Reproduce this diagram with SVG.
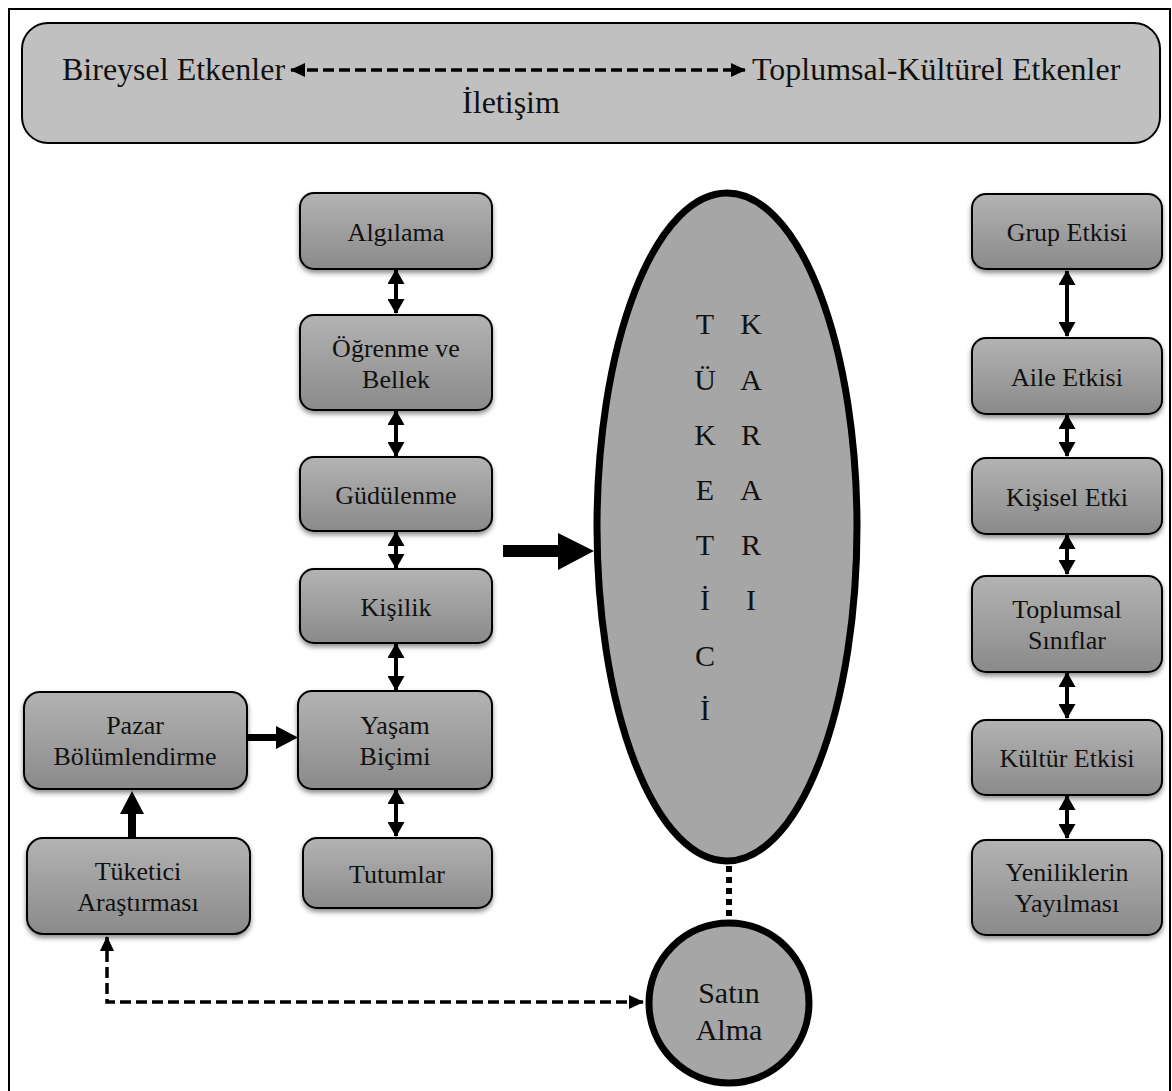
<svg xmlns="http://www.w3.org/2000/svg" width="1172" height="1091" viewBox="0 0 1172 1091">
  <defs>
    <linearGradient id="boxGrad" x1="0" y1="0" x2="0" y2="1">
      <stop offset="0" stop-color="#b3b3b3"/>
      <stop offset="1" stop-color="#8a8a8a"/>
    </linearGradient>
    <filter id="shadow" x="-10%" y="-10%" width="120%" height="130%">
      <feDropShadow dx="0" dy="3" stdDeviation="2.5" flood-color="#000" flood-opacity="0.45"/>
    </filter>
    <!-- solid head for the short two-way links -->
    <marker id="headSolid" markerUnits="userSpaceOnUse" markerWidth="15" markerHeight="17" refX="14" refY="8.5" orient="auto-start-reverse" viewBox="0 0 15 17">
      <path d="M0,0 L15,8.5 L0,17 z" fill="#000"/>
    </marker>
    <!-- head for dashed links -->
    <marker id="headDash" markerUnits="userSpaceOnUse" markerWidth="15" markerHeight="14" refX="14" refY="7" orient="auto-start-reverse" viewBox="0 0 15 14">
      <path d="M0,0 L15,7 L0,14 z" fill="#000"/>
    </marker>
    <style>
      .box { fill: url(#boxGrad); stroke: #000; stroke-width: 2; filter: url(#shadow); }
      .lbl { font-family: "Liberation Serif", "Times New Roman", serif; font-size: 26px; fill: #111; text-anchor: middle; }
      .big { font-family: "Liberation Serif", "Times New Roman", serif; font-size: 32px; fill: #111; }
      .letter { font-family: "Liberation Serif", "Times New Roman", serif; font-size: 30px; fill: #111; text-anchor: middle; }
      .link2 { stroke: #000; stroke-width: 4; fill: none; marker-start: url(#headSolid); marker-end: url(#headSolid); }
      .dash { stroke: #000; stroke-width: 3.5; fill: none; stroke-dasharray: 11 5; }
    </style>
  </defs>

  <rect width="1172" height="1091" fill="#fff"/>
  <!-- outer frame -->
  <rect x="9" y="9" width="1161" height="1100" fill="none" stroke="#000" stroke-width="2"/>

  <!-- header band -->
  <g id="header">
    <rect x="22" y="23" width="1138" height="120" rx="26" fill="#c0c0c0" stroke="#000" stroke-width="2"/>
    <text class="big" x="62" y="80">Bireysel Etkenler</text>
    <text class="big" x="752" y="80">Toplumsal-Kültürel Etkenler</text>
    <text class="big" x="511" y="113" text-anchor="middle">İletişim</text>
  </g>

  <!-- individual factors -->
  <g id="algilama"><rect class="box" x="300" y="193" width="192" height="76" rx="14"/><text class="lbl" x="396" y="241">Algılama</text></g>
  <g id="ogrenme"><rect class="box" x="300" y="315" width="192" height="95" rx="14"/><text class="lbl" x="396" y="357">Öğrenme ve</text><text class="lbl" x="396" y="388">Bellek</text></g>
  <g id="gudulenme"><rect class="box" x="300" y="457" width="192" height="74" rx="14"/><text class="lbl" x="396" y="504">Güdülenme</text></g>
  <g id="kisilik"><rect class="box" x="300" y="569" width="192" height="74" rx="14"/><text class="lbl" x="396" y="616">Kişilik</text></g>
  <g id="yasam"><rect class="box" x="298" y="691" width="194" height="98" rx="14"/><text class="lbl" x="395" y="734">Yaşam</text><text class="lbl" x="395" y="765">Biçimi</text></g>
  <g id="tutumlar"><rect class="box" x="303" y="838" width="189" height="70" rx="14"/><text class="lbl" x="397" y="883">Tutumlar</text></g>

  <g id="pazar"><rect class="box" x="24" y="692" width="223" height="97" rx="16"/><text class="lbl" x="135" y="734">Pazar</text><text class="lbl" x="135" y="765">Bölümlendirme</text></g>
  <g id="arastirma"><rect class="box" x="27" y="838" width="223" height="96" rx="16"/><text class="lbl" x="138" y="880">Tüketici</text><text class="lbl" x="138" y="911">Araştırması</text></g>

  <!-- social-cultural factors -->
  <g id="grup"><rect class="box" x="972" y="194" width="190" height="75" rx="14"/><text class="lbl" x="1067" y="241">Grup Etkisi</text></g>
  <g id="aile"><rect class="box" x="972" y="338" width="190" height="76" rx="14"/><text class="lbl" x="1067" y="386">Aile Etkisi</text></g>
  <g id="kisisel"><rect class="box" x="972" y="458" width="190" height="76" rx="14"/><text class="lbl" x="1067" y="506">Kişisel Etki</text></g>
  <g id="siniflar"><rect class="box" x="972" y="576" width="190" height="96" rx="14"/><text class="lbl" x="1067" y="618">Toplumsal</text><text class="lbl" x="1067" y="649">Sınıflar</text></g>
  <g id="kultur"><rect class="box" x="972" y="720" width="190" height="75" rx="14"/><text class="lbl" x="1067" y="767">Kültür Etkisi</text></g>
  <g id="yenilik"><rect class="box" x="972" y="840" width="190" height="95" rx="14"/><text class="lbl" x="1067" y="881">Yeniliklerin</text><text class="lbl" x="1067" y="912">Yayılması</text></g>

  <!-- consumer decision -->
  <g id="karar">
    <ellipse cx="727" cy="527" rx="130" ry="334" fill="#a6a6a6" stroke="#000" stroke-width="7"/>
    <text class="letter" x="705" y="334">T</text>
    <text class="letter" x="705" y="390">Ü</text>
    <text class="letter" x="705" y="445">K</text>
    <text class="letter" x="705" y="500">E</text>
    <text class="letter" x="705" y="555">T</text>
    <text class="letter" x="705" y="610">İ</text>
    <text class="letter" x="705" y="666">C</text>
    <text class="letter" x="705" y="720">İ</text>
    <text class="letter" x="751" y="334">K</text>
    <text class="letter" x="751" y="390">A</text>
    <text class="letter" x="751" y="445">R</text>
    <text class="letter" x="751" y="500">A</text>
    <text class="letter" x="751" y="555">R</text>
    <text class="letter" x="751" y="610">I</text>
  </g>

  <g id="satinalma">
    <circle cx="729" cy="1003" r="80" fill="#a6a6a6" stroke="#000" stroke-width="7"/>
    <text class="letter" x="729" y="1003">Satın</text>
    <text class="letter" x="729" y="1040">Alma</text>
  </g>

  <!-- connectors -->
  <g id="connectors">
    <path class="dash" d="M291,70 H745" marker-start="url(#headDash)" marker-end="url(#headDash)"/>

    <path class="link2" d="M396,270 V313"/>
    <path class="link2" d="M396,411 V456"/>
    <path class="link2" d="M396,532 V568"/>
    <path class="link2" d="M396,644 V690"/>
    <path class="link2" d="M396,790 V836"/>

    <path class="link2" d="M1067,271 V336"/>
    <path class="link2" d="M1067,415 V456"/>
    <path class="link2" d="M1067,535 V574"/>
    <path class="link2" d="M1067,673 V718"/>
    <path class="link2" d="M1067,796 V838"/>

    <!-- factors into the decision -->
    <polygon points="503,545 558,545 558,533 594,551 558,570 558,557 503,557" fill="#000"/>
    <!-- segmentation into lifestyle -->
    <polygon points="247,734 276,734 276,726 298,737.5 276,749 276,741 247,741" fill="#000"/>
    <!-- research up to segmentation -->
    <polygon points="128,838 128,814 120,814 132,791 144,814 136,814 136,838" fill="#000"/>

    <path d="M729,866 V921" stroke="#000" stroke-width="6" stroke-dasharray="6 5" fill="none"/>
    <path class="dash" d="M643,1002 H107 V937" marker-start="url(#headDash)" marker-end="url(#headDash)"/>
  </g>
</svg>
